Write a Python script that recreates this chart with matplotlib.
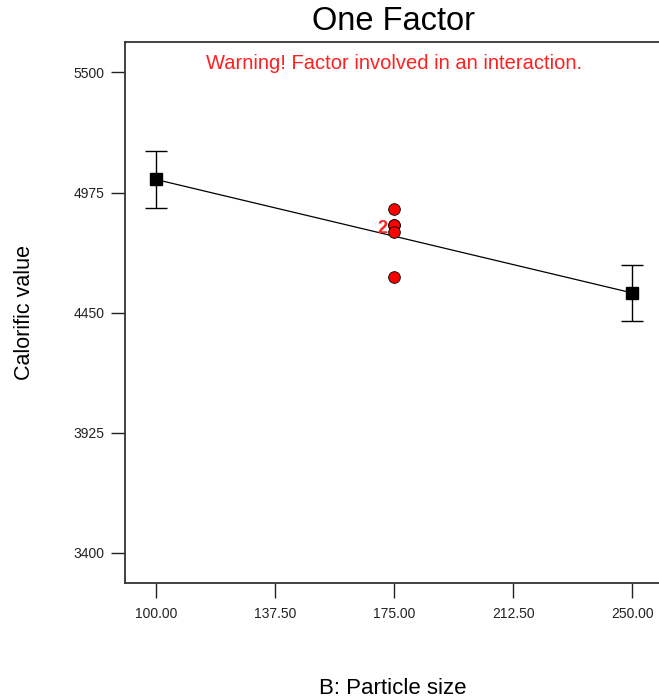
import matplotlib
matplotlib.use("Agg")
import matplotlib.pyplot as plt

plt.rcParams['font.family'] = ['Liberation Sans', 'DejaVu Sans']

# Data
factor_levels = [100.0, 250.0]
predicted = [5032, 4536]
ci_half = [126, 123]
center_x = [175.0, 175.0, 175.0, 175.0, 175.0]
center_y = [4904, 4831, 4831, 4802, 4605]
x_ticks = [100.0, 137.5, 175.0, 212.5, 250.0]
x_tick_labels = ["100.00", "137.50", "175.00", "212.50", "250.00"]
y_ticks = [3400, 3925, 4450, 4975, 5500]
y_tick_labels = ["3400", "3925", "4450", "4975", "5500"]

fig = plt.figure(figsize=(6.59, 7.0), dpi=100)
ax = fig.add_axes([0.1901, 0.1671, 0.8160, 0.7729])

ax.plot(factor_levels, predicted, color='black', lw=0.9, zorder=2)
ax.errorbar(factor_levels, predicted, yerr=ci_half, fmt='none', ecolor='black',
            elinewidth=1.0, capsize=7.7, capthick=1.0, zorder=3)
ax.plot(factor_levels, predicted, linestyle='none', marker='s', markersize=8,
        color='black', zorder=4)
ax.plot(center_x, center_y, linestyle='none', marker='o', markersize=8.4,
        markerfacecolor='#ff0000', markeredgecolor='black', markeredgewidth=0.6, zorder=5)
ax.annotate("2", xy=(center_x[1], center_y[1]), xytext=(-8.6, -2.4),
            textcoords='offset points', ha='center', va='center',
            color='#ff2020', fontsize=13, fontweight='bold', zorder=6)

ax.set_xlim(90.33, 259.67)
ax.set_ylim(3268, 5633)
ax.set_xticks(x_ticks)
ax.set_xticklabels(x_tick_labels)
ax.set_yticks(y_ticks)
ax.set_yticklabels(y_tick_labels)
ax.tick_params(axis='x', direction='out', length=10.5, width=1.0, pad=7,
               labelsize=10, colors='#222222')
ax.tick_params(axis='y', direction='out', length=10, width=1.0, pad=5,
               labelsize=10, colors='#222222')
for s in ax.spines.values():
    s.set_color('#333333')
    s.set_linewidth(1.3)

ax.text(0.5, 0.96, "Warning! Factor involved in an interaction.", transform=ax.transAxes,
        ha='center', va='center', color='#ff2020', fontsize=14.5)

fig.text(393 / 659, 1 - 22 / 700, "One Factor", ha='center', va='center', fontsize=23.5, color='black')
fig.text(393 / 659, 1 - 688 / 700, "B: Particle size", ha='center', va='center', fontsize=16, color='black')
fig.text(25 / 659, 1 - 312 / 700, "Calorific value", ha='center', va='center', fontsize=15.5,
         rotation=90, color='black')

fig.savefig("out.png", dpi=100)
